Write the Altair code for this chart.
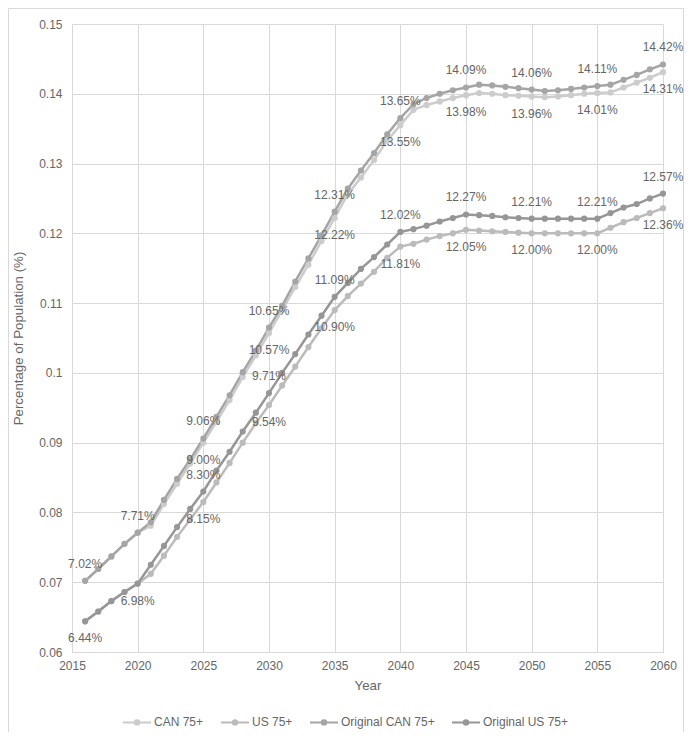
import altair as alt
import pandas as pd

years = list(range(2016, 2061))

series_names = ["CAN 75+", "US 75+", "Original CAN 75+", "Original US 75+"]
series_colors = ["#CCCCCC", "#BBBBBB", "#A5A5A5", "#969696"]

can_75 = [0.0702, 0.0719, 0.0737, 0.0755, 0.0771, 0.0781, 0.0812, 0.0841, 0.0870, 0.0900,
          0.0930, 0.0961, 0.0994, 0.1025, 0.1057, 0.1090, 0.1123, 0.1155, 0.1189, 0.1222,
          0.1256, 0.1280, 0.1305, 0.1333, 0.1355, 0.1377, 0.1384, 0.1389, 0.1394, 0.1398,
          0.1401, 0.1400, 0.1398, 0.1397, 0.1396, 0.1395, 0.1396, 0.1398, 0.1400, 0.1401,
          0.1402, 0.1409, 0.1416, 0.1423, 0.1431]
us_75 = [0.0644, 0.0658, 0.0673, 0.0686, 0.0698, 0.0712, 0.0738, 0.0765, 0.0790, 0.0815,
         0.0843, 0.0871, 0.0900, 0.0928, 0.0954, 0.0982, 0.1009, 0.1037, 0.1064, 0.1090,
         0.1110, 0.1128, 0.1145, 0.1165, 0.1181, 0.1185, 0.1191, 0.1196, 0.1200, 0.1205,
         0.1204, 0.1203, 0.1202, 0.1201, 0.1200, 0.1200, 0.1200, 0.1200, 0.1200, 0.1200,
         0.1208, 0.1216, 0.1222, 0.1229, 0.1236]
orig_can_75 = [0.0702, 0.0719, 0.0737, 0.0755, 0.0771, 0.0786, 0.0818, 0.0848, 0.0876, 0.0906,
               0.0937, 0.0968, 0.1001, 0.1032, 0.1065, 0.1096, 0.1131, 0.1164, 0.1197, 0.1231,
               0.1264, 0.1290, 0.1315, 0.1342, 0.1365, 0.1385, 0.1394, 0.1400, 0.1405, 0.1409,
               0.1413, 0.1412, 0.1410, 0.1408, 0.1406, 0.1404, 0.1405, 0.1407, 0.1409, 0.1411,
               0.1413, 0.1420, 0.1427, 0.1435, 0.1442]
orig_us_75 = [0.0644, 0.0658, 0.0673, 0.0686, 0.0698, 0.0725, 0.0752, 0.0779, 0.0805, 0.0830,
              0.0860, 0.0887, 0.0916, 0.0943, 0.0971, 0.1000, 0.1027, 0.1055, 0.1082, 0.1109,
              0.1129, 0.1149, 0.1166, 0.1184, 0.1202, 0.1206, 0.1211, 0.1217, 0.1222, 0.1227,
              0.1226, 0.1225, 0.1223, 0.1222, 0.1221, 0.1221, 0.1221, 0.1221, 0.1221, 0.1221,
              0.1229, 0.1237, 0.1242, 0.1250, 0.1257]

# data-label years per series and whether the label sits above or below the point
label_years = {
    "CAN 75+": [2025, 2030, 2035, 2040, 2045, 2050, 2055, 2060],
    "US 75+": [2016, 2020, 2025, 2030, 2035, 2040, 2045, 2050, 2055, 2060],
    "Original CAN 75+": [2016, 2020, 2025, 2030, 2035, 2040, 2045, 2050, 2055, 2060],
    "Original US 75+": [2025, 2030, 2035, 2040, 2045, 2050, 2055, 2060],
}
label_side = {"CAN 75+": "below", "US 75+": "below",
              "Original CAN 75+": "above", "Original US 75+": "above"}

x_ticks = [2015, 2020, 2025, 2030, 2035, 2040, 2045, 2050, 2055, 2060]
y_ticks = [0.06, 0.07, 0.08, 0.09, 0.10, 0.11, 0.12, 0.13, 0.14, 0.15]

values_by_series = dict(zip(series_names, [can_75, us_75, orig_can_75, orig_us_75]))

rows = []
for s in series_names:
    for y, v in zip(years, values_by_series[s]):
        rows.append({"Year": y, "Value": v, "Series": s})
df = pd.DataFrame(rows)

lab_rows = []
for s in series_names:
    vals = dict(zip(years, values_by_series[s]))
    for y in label_years[s]:
        lab_rows.append({"Year": y, "Value": vals[y], "Series": s, "Side": label_side[s]})
df_lab = pd.DataFrame(lab_rows)

FONT = "Liberation Sans"
TXT = "#666666"
GRID = "#D9D9D9"

xs = alt.Scale(domain=[2015, 2060], nice=False, zero=False)
ys = alt.Scale(domain=[0.06, 0.15], nice=False, zero=False)
cs = alt.Scale(domain=series_names, range=series_colors)

legend_path = ("M-1,0L1,0"
               "M-0.07,0A0.07,0.07,0,1,0,0.07,0A0.07,0.07,0,1,0,-0.07,0Z"
               "M-0.16,0A0.16,0.16,0,1,0,0.16,0A0.16,0.16,0,1,0,-0.16,0Z")

x_enc = alt.X("Year:Q", scale=xs,
              axis=alt.Axis(values=x_ticks, format="d", title="Year", grid=True,
                            gridColor=GRID, domainColor=GRID, ticks=False, labelFlush=False,
                            labelPadding=8, labelFontSize=12, labelColor=TXT, labelFont=FONT,
                            titleFontSize=13.3, titleColor=TXT, titleFont=FONT,
                            titleFontWeight="normal", titleX=295.5, titleY=33,
                            titleBaseline="middle", titleAlign="center"))
y_enc = alt.Y("Value:Q", scale=ys,
              axis=alt.Axis(values=y_ticks, format=".2~f", title="Percentage of Population (%)",
                            grid=True, gridColor=GRID, domainColor=GRID, ticks=False,
                            labelFlush=False,
                            labelPadding=10, labelFontSize=12, labelColor=TXT, labelFont=FONT,
                            titleFontSize=13.3, titleColor=TXT, titleFont=FONT,
                            titleFontWeight="normal", titleX=-54, titleY=314,
                            titleAngle=270, titleBaseline="middle", titleAlign="center"))

lines = alt.Chart(df).mark_line(strokeWidth=2.5).encode(
    x=x_enc, y=y_enc,
    color=alt.Color("Series:N", scale=cs, sort=series_names,
                    legend=alt.Legend(title=None, orient="none", legendX=50, legendY=683,
                                      direction="horizontal", symbolType=legend_path,
                                      symbolSize=784, symbolStrokeWidth=2,
                                      labelFontSize=12, labelColor=TXT, labelFont=FONT,
                                      labelOffset=2, columnPadding=13)),
    detail="Series:N",
)

points = alt.Chart(df).mark_point(filled=True, size=38, opacity=1).encode(
    x="Year:Q", y="Value:Q",
    color=alt.Color("Series:N", scale=cs, legend=None),
)

text_above = alt.Chart(df_lab).transform_filter(alt.datum.Side == "above").mark_text(
    dy=-17, fontSize=12, font=FONT, color=TXT, baseline="middle", align="center"
).encode(x="Year:Q", y="Value:Q", text=alt.Text("Value:Q", format=".2%"))

text_below = alt.Chart(df_lab).transform_filter(alt.datum.Side == "below").mark_text(
    dy=17, fontSize=12, font=FONT, color=TXT, baseline="middle", align="center"
).encode(x="Year:Q", y="Value:Q", text=alt.Text("Value:Q", format=".2%"))

border = alt.Chart(alt.Data(values=[{"a": 1}])).mark_rect(
    fill=None, stroke=GRID, strokeWidth=1
).encode(x=alt.value(-63.5), x2=alt.value(611.5), y=alt.value(-15.5), y2=alt.value(708.5))

chart = alt.layer(border, lines, points, text_above, text_below).properties(
    width=591, height=628,
    autosize=alt.AutoSizeParams(type="none"),
    padding={"left": 64, "top": 16, "right": 21, "bottom": 80},
    background="white",
).configure_view(stroke=None)

chart.save("out.html", embed_options={"renderer": "svg", "actions": False})
